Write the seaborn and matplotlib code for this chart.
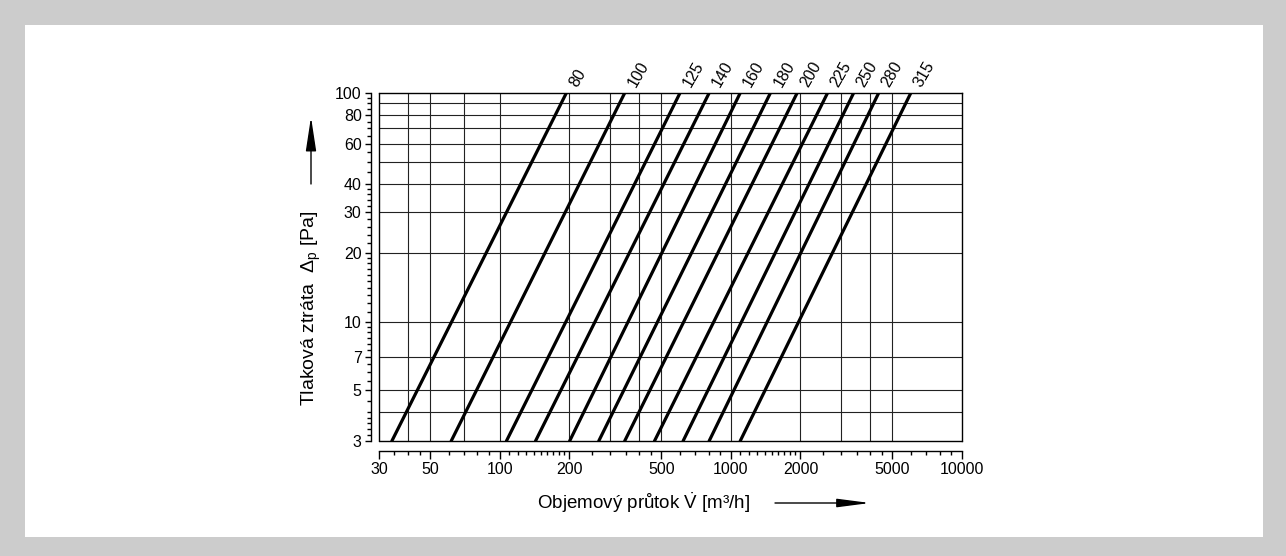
import matplotlib
matplotlib.use("Agg")
import matplotlib.pyplot as plt
import seaborn as sns
import pandas as pd
from matplotlib.patches import Rectangle
from matplotlib.ticker import FixedLocator, NullFormatter

# ---- data ----
diameters = [80, 100, 125, 140, 160, 180, 200, 225, 250, 280, 315]
flow_at_3pa = [34.1, 61.6, 106.8, 142.7, 200.5, 268, 347, 467, 621, 805, 1097]
flow_at_100pa = [194, 347, 602, 805, 1097, 1482, 1934, 2619, 3396, 4359, 6004]
dp_low, dp_high = 3, 100

x_major = [30, 50, 100, 200, 500, 1000, 2000, 5000, 10000]
x_major_labels = ["30", "50", "100", "200", "500", "1000", "2000", "5000", "10000"]
x_minor = ([35, 40, 45, 60, 70, 80, 90] + list(range(110, 200, 10)) +
           [250, 300, 350, 400, 450, 600, 700, 800, 900] +
           list(range(1100, 2000, 100)) + [2500, 3000, 3500, 4000, 4500] +
           [6000, 7000, 8000, 9000])
y_major = [3, 5, 7, 10, 20, 30, 40, 60, 80, 100]
y_major_labels = ["3", "5", "7", "10", "20", "30", "40", "60", "80", "100"]
y_minor = ([3.2, 3.4, 3.6, 3.8, 4, 4.5, 5.5, 6, 6.5, 7.5, 8, 8.5, 9, 9.5] +
           list(range(11, 20)) + [22, 24, 26, 28, 32, 34, 36, 38] +
           [45, 50, 55, 65, 70, 75, 85, 90, 95])
x_grid = [40, 50, 70, 100, 200, 300, 400, 500, 1000, 2000, 3000, 4000, 5000]
y_grid = [4, 5, 7, 10, 20, 30, 40, 50, 60, 70, 80, 90]

rows = []
for d, v0, v1 in zip(diameters, flow_at_3pa, flow_at_100pa):
    rows.append({"d": d, "V": v0, "dp": dp_low})
    rows.append({"d": d, "V": v1, "dp": dp_high})
df = pd.DataFrame(rows)

sns.set_theme(style="white")
plt.rcParams["font.family"] = ["Liberation Sans", "DejaVu Sans"]
plt.rcParams["mathtext.fontset"] = "custom"
plt.rcParams["mathtext.rm"] = "Liberation Sans"
plt.rcParams["mathtext.it"] = "Liberation Sans:italic"
plt.rcParams["mathtext.bf"] = "Liberation Sans:bold"

W, H = 1286, 556
fig = plt.figure(figsize=(W / 100, H / 100), dpi=100, facecolor="#cccccc")
fig.patches.append(Rectangle((25 / W, 1 - 537 / H), (1263 - 25) / W, (537 - 25) / H,
                             transform=fig.transFigure, facecolor="white",
                             edgecolor="none", zorder=-10))

ax = fig.add_axes([379 / W, 1 - 441 / H, 583 / W, 348 / H])
ax.set_facecolor("white")

sns.lineplot(data=df, x="V", y="dp", units="d", estimator=None, color="black",
             lw=2.3, ax=ax, legend=False, sort=False, zorder=5)
ax.set_xscale("log")
ax.set_yscale("log")
ax.set_xlim(30, 10000)
ax.set_ylim(3, 100)

for xv in x_grid:
    ax.axvline(xv, color="#222222", lw=0.8, zorder=1)
for yv in y_grid:
    ax.axhline(yv, color="#222222", lw=0.8, zorder=1)

# plot frame
for s in ["top", "right"]:
    ax.spines[s].set_visible(True)
    ax.spines[s].set_color("black")
    ax.spines[s].set_linewidth(1.0)
ax.plot([0, 0], [0, 1], transform=ax.transAxes, color="black", lw=1.0, clip_on=False)
ax.plot([0, 1], [0, 0], transform=ax.transAxes, color="black", lw=1.0, clip_on=False)
ax.spines["left"].set_position(("outward", 6))
ax.spines["bottom"].set_position(("outward", 7))
for s in ["left", "bottom"]:
    ax.spines[s].set_color("black")
    ax.spines[s].set_linewidth(1.0)

ax.set_xticks(x_major)
ax.set_xticklabels(x_major_labels)
ax.xaxis.set_minor_locator(FixedLocator(x_minor))
ax.xaxis.set_minor_formatter(NullFormatter())
ax.set_yticks(y_major)
ax.set_yticklabels(y_major_labels)
ax.yaxis.set_minor_locator(FixedLocator(y_minor))
ax.yaxis.set_minor_formatter(NullFormatter())
ax.tick_params(axis="x", which="major", length=5.5, width=1, color="black",
               direction="out", labelsize=11.5, pad=2.5, bottom=True, labelcolor="black")
ax.tick_params(axis="y", which="major", length=4.5, width=1, color="black",
               direction="out", labelsize=11.5, pad=2, left=True, labelcolor="black")
ax.tick_params(which="minor", length=3, width=1, color="black", direction="out",
               bottom=True, left=True)
ax.set_xlabel("")
ax.set_ylabel("")

# diameter labels
for d, v1 in zip(diameters, flow_at_100pa):
    ax.annotate(str(d), xy=(v1, dp_high), xycoords="data",
                xytext=(7, 7), textcoords="offset pixels",
                rotation=60, rotation_mode="anchor", ha="left", va="center",
                fontsize=11.5, color="black", annotation_clip=False)

# axis titles with arrows
fig.text(311 / W, 1 - 308 / H, "Tlaková ztráta  $\\Delta_{\\mathrm{p}}$ [Pa]",
         rotation=90, ha="center", va="center", fontsize=14, color="black")
ax.annotate("", xy=(311, H - 117), xytext=(311, H - 184), xycoords="figure pixels",
            textcoords="figure pixels", annotation_clip=False,
            arrowprops=dict(arrowstyle="-|>,head_length=1.05,head_width=0.16",
                            color="black", lw=1.0, mutation_scale=20,
                            shrinkA=0, shrinkB=0))
fig.text(644 / W, 1 - 503 / H, "Objemový průtok $\\dot{\\mathrm{V}}$ [m³/h]",
         ha="center", va="center", fontsize=13.5, color="black")
ax.annotate("", xy=(870, H - 503), xytext=(775, H - 503), xycoords="figure pixels",
            textcoords="figure pixels", annotation_clip=False,
            arrowprops=dict(arrowstyle="-|>,head_length=1.0,head_width=0.13",
                            color="black", lw=1.0, mutation_scale=20,
                            shrinkA=0, shrinkB=0))

fig.savefig("out.png", dpi=100, facecolor=fig.get_facecolor())
